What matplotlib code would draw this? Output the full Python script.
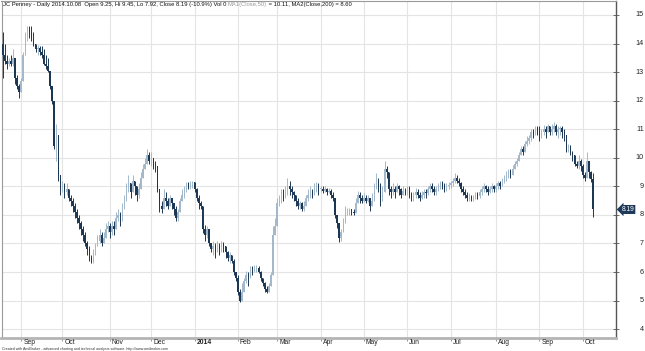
import numpy as np
import pandas as pd
import matplotlib
matplotlib.use("Agg")
import matplotlib.pyplot as plt
import matplotlib.transforms as mtransforms

plt.rcParams['font.family'] = ['Liberation Sans', 'DejaVu Sans']

# trading calendar of the chart (NYSE holidays inside the range)
holidays = ["2013-09-02", "2013-11-28", "2013-12-25", "2014-01-01", "2014-01-20",
            "2014-02-17", "2014-04-18", "2014-05-26", "2014-07-04", "2014-09-01"]
first_day = "2013-08-20"
last_day = "2014-10-08"

# daily close / high / low (Aug 2013 .. Oct 2014)
close = [
    # Aug
    13.6, 13.4, 13.3, 13.4, 13.3, 13.5, 12.8, 12.5, 12.3,
    # Sep
    12.7, 13.6, 14.3, 14.5, 14.4, 14.2, 14.0, 13.8, 13.85, 13.7,
    13.6, 13.3, 13.2, 13.05, 12.5, 12.0, 10.4, 10.8, 9.4, 8.9,
    # Oct
    9.0, 8.8, 8.9, 8.6, 8.5, 8.3, 8.1, 7.9, 7.7, 7.5, 7.3, 7.0,
    6.8, 6.5, 6.4, 6.6, 6.9, 7.1, 7.3, 7.0, 7.2, 7.5, 7.6,
    # Nov
    7.4, 7.6, 7.5, 7.9, 8.0, 7.8, 8.2, 8.5, 8.9, 9.1,
    8.8, 9.2, 9.0, 8.7, 8.9, 9.3, 9.6, 9.8, 10.1, 9.9,
    # Dec
    10.0, 9.8, 9.7, 8.9, 8.3, 8.2, 8.6, 8.5, 8.3, 8.6, 8.4,
    8.2, 7.9, 8.1, 8.5, 8.7, 8.9, 9.1, 9.0, 9.1, 9.15,
    # Jan
    8.9, 8.6, 8.4, 8.3, 7.5, 7.3, 7.5, 7.0, 6.8, 6.9, 6.7,
    6.9, 6.8, 7.0, 6.9, 6.7, 6.5, 6.6, 6.4, 6.0, 5.8,
    # Feb
    5.3, 5.0, 5.3, 5.7, 5.9, 5.8, 6.1, 6.0, 6.1, 6.15,
    6.0, 5.8, 5.6, 5.4, 5.3, 5.5, 5.9, 7.3, 7.6,
    # Mar
    8.4, 8.5, 8.7, 8.6, 8.8, 9.0, 8.9, 8.8, 8.7, 8.5, 8.3,
    8.4, 8.2, 8.3, 8.6, 8.7, 8.8, 8.7, 8.9, 9.0, 8.9,
    # Apr
    8.9, 8.85, 8.9, 8.8, 8.85, 8.7, 8.6, 8.0, 7.7, 7.2, 7.4,
    7.7, 8.1, 8.1, 8.2, 8.1, 8.05, 8.4, 8.7, 8.6, 8.5,
    # May
    8.6, 8.5, 8.6, 8.3, 8.5, 8.9, 9.2, 9.0, 8.5, 8.8, 9.6,
    9.5, 8.9, 8.8, 8.9, 8.8, 9.0, 8.9, 8.7, 8.85, 8.8,
    # Jun
    8.9, 8.7, 8.6, 8.7, 8.8, 8.7, 8.6, 8.7, 8.8, 8.75, 8.9,
    9.0, 8.9, 8.8, 8.9, 9.0, 9.1, 9.0, 8.9, 9.0, 9.05,
    # Jul
    9.1, 9.2, 9.3, 9.2, 9.1, 8.9, 8.8, 8.7, 8.6, 8.65, 8.6,
    8.6, 8.7, 8.65, 8.8, 8.9, 9.0, 8.9, 8.8, 8.9, 9.0, 8.9,
    # Aug
    9.0, 9.1, 9.0, 9.2, 9.3, 9.4, 9.5, 9.4, 9.6, 9.8, 9.9,
    10.1, 10.3, 10.2, 10.5, 10.6, 10.7, 10.9, 10.8, 11.0, 10.9,
    # Sep
    10.8, 10.9, 11.0, 10.9, 11.1, 10.9, 11.0, 11.1, 10.9, 11.0, 11.05,
    10.9, 10.8, 10.3, 10.4, 10.2, 10.1, 9.8, 9.7, 9.9, 9.7,
    # Oct
    9.4, 9.3, 9.9, 9.5, 9.25, 8.19,
]

high = [
    14.4, 14.0, 13.6, 13.5, 13.6, 13.8, 13.4, 12.9, 12.6,
    12.8, 13.7, 14.4, 14.6, 14.6, 14.6, 14.4, 14.0, 13.95, 13.9,
    13.9, 13.8, 13.6, 13.5, 12.9, 12.4, 11.8, 11.2, 9.9, 9.2,
    9.2, 9.1, 9.1, 8.9, 8.7, 8.6, 8.4, 8.2, 8.0, 7.8, 7.6, 7.4,
    7.1, 6.9, 6.6, 6.8, 7.0, 7.3, 7.5, 7.4, 7.4, 7.7, 7.8,
    7.7, 7.8, 7.8, 8.1, 8.2, 8.1, 8.4, 8.7, 9.1, 9.4,
    9.1, 9.4, 9.2, 9.0, 9.1, 9.5, 9.8, 10.0, 10.3, 10.2,
    10.2, 10.0, 9.9, 9.6, 8.8, 8.5, 8.9, 8.8, 8.6, 8.7, 8.6,
    8.4, 8.3, 8.2, 8.6, 8.9, 9.0, 9.15, 9.15, 9.2, 9.2,
    9.15, 8.95, 8.7, 8.5, 7.8, 7.65, 7.6, 7.35, 7.0, 7.1, 7.0,
    7.1, 7.0, 7.1, 7.05, 6.9, 6.75, 6.7, 6.6, 6.45, 6.0,
    5.9, 5.4, 5.6, 5.8, 6.05, 6.0, 6.2, 6.2, 6.25, 6.25,
    6.2, 6.05, 5.8, 5.65, 5.5, 5.6, 6.0, 7.6, 7.9,
    8.6, 8.7, 8.9, 8.9, 9.0, 9.3, 9.2, 9.0, 8.85, 8.7, 8.6,
    8.5, 8.45, 8.5, 8.7, 8.9, 9.0, 8.9, 9.1, 9.15, 9.1,
    9.0, 9.0, 9.0, 8.95, 8.95, 8.9, 8.8, 8.45, 8.0, 7.7, 7.5,
    7.9, 8.3, 8.25, 8.25, 8.2, 8.2, 8.6, 8.85, 8.8, 8.7,
    8.75, 8.7, 8.7, 8.6, 8.75, 9.1, 9.45, 9.3, 9.1, 9.0, 9.9,
    9.7, 9.3, 9.0, 9.1, 9.0, 9.1, 9.05, 8.95, 9.0, 8.95,
    9.0, 9.0, 8.8, 8.8, 8.95, 8.9, 8.8, 8.85, 8.9, 8.9, 9.0,
    9.1, 9.1, 9.0, 9.0, 9.1, 9.2, 9.2, 9.1, 9.1, 9.15,
    9.2, 9.3, 9.45, 9.4, 9.3, 9.15, 9.0, 8.9, 8.8, 8.75, 8.7,
    8.7, 8.8, 8.8, 8.9, 9.0, 9.1, 9.05, 9.0, 9.0, 9.1, 9.05,
    9.1, 9.2, 9.2, 9.3, 9.4, 9.55, 9.6, 9.6, 9.75, 9.9, 10.0,
    10.2, 10.4, 10.4, 10.6, 10.75, 10.8, 11.0, 11.0, 11.1, 11.1,
    11.1, 11.0, 11.15, 11.1, 11.2, 11.1, 11.2, 11.25, 11.2, 11.1, 11.1,
    11.1, 11.0, 10.8, 10.5, 10.45, 10.25, 10.1, 9.9, 10.1, 9.95,
    9.8, 9.5, 10.2, 9.9, 9.55, 9.45,
]

low = [
    12.8, 13.3, 13.1, 13.2, 13.2, 13.2, 12.6, 12.4, 12.1,
    12.4, 12.9, 13.9, 14.1, 14.2, 14.1, 13.9, 13.7, 13.6, 13.6,
    13.5, 13.25, 13.1, 13.0, 12.4, 11.9, 10.3, 9.9, 9.2, 8.7,
    8.8, 8.6, 8.7, 8.5, 8.3, 8.1, 7.9, 7.7, 7.5, 7.3, 7.1, 6.9,
    6.6, 6.4, 6.3, 6.3, 6.6, 6.9, 7.0, 6.9, 7.0, 7.2, 7.4,
    7.2, 7.3, 7.3, 7.5, 7.8, 7.6, 7.8, 8.2, 8.5, 8.8,
    8.6, 8.8, 8.7, 8.5, 8.6, 8.9, 9.3, 9.6, 9.8, 9.8,
    9.7, 9.6, 9.5, 8.8, 8.1, 8.05, 8.3, 8.3, 8.2, 8.3, 8.2,
    8.0, 7.8, 7.8, 8.1, 8.5, 8.6, 8.8, 8.9, 8.9, 8.95,
    8.8, 8.5, 8.2, 8.2, 7.35, 7.1, 7.2, 6.9, 6.7, 6.6, 6.5,
    6.7, 6.6, 6.7, 6.7, 6.5, 6.4, 6.3, 6.3, 5.9, 5.7,
    5.2, 4.95, 5.0, 5.3, 5.6, 5.5, 5.9, 5.9, 6.0, 6.0,
    5.95, 5.7, 5.5, 5.3, 5.25, 5.3, 5.6, 7.0, 7.3,
    8.2, 8.3, 8.4, 8.5, 8.6, 8.7, 8.7, 8.6, 8.5, 8.3, 8.2,
    8.2, 8.15, 8.15, 8.4, 8.5, 8.6, 8.6, 8.7, 8.8, 8.7,
    8.8, 8.75, 8.8, 8.7, 8.75, 8.6, 8.5, 7.9, 7.55, 7.05, 7.1,
    7.6, 7.9, 8.0, 8.0, 8.0, 8.0, 8.3, 8.5, 8.4, 8.4,
    8.45, 8.4, 8.45, 8.15, 8.3, 8.6, 8.9, 8.8, 8.3, 8.5, 9.3,
    9.3, 8.7, 8.6, 8.7, 8.6, 8.8, 8.7, 8.6, 8.7, 8.7,
    8.7, 8.6, 8.5, 8.5, 8.6, 8.6, 8.5, 8.55, 8.6, 8.6, 8.7,
    8.8, 8.8, 8.7, 8.7, 8.85, 8.9, 8.9, 8.8, 8.85, 8.9,
    8.95, 9.0, 9.1, 9.1, 9.0, 8.8, 8.7, 8.6, 8.5, 8.5, 8.5,
    8.5, 8.55, 8.55, 8.6, 8.7, 8.8, 8.8, 8.7, 8.75, 8.8, 8.8,
    8.8, 8.9, 8.9, 9.0, 9.1, 9.2, 9.3, 9.3, 9.4, 9.6, 9.7,
    9.9, 10.1, 10.1, 10.2, 10.4, 10.5, 10.6, 10.7, 10.8, 10.8,
    10.6, 10.7, 10.8, 10.7, 10.9, 10.8, 10.8, 10.9, 10.8, 10.7, 10.8,
    10.7, 10.6, 10.2, 10.2, 10.1, 9.9, 9.7, 9.65, 9.6, 9.55,
    9.3, 9.2, 9.5, 9.3, 9.15, 7.92,
]

first_open = 14.0
price_ticks = list(range(4, 16))
last_label = "8.19"
title_main = "JC Penney - Daily 2014.10.08  Open 9.25, Hi 9.45, Lo 7.92, Close 8.19 (-10.9%) Vol 0 "
title_ma1 = "MA1(Close,50)"
title_rest = " = 10.11, MA2(Close,200) = 8.60"
footer = ("Created with AmiBroker - advanced charting and technical analysis software. "
          "http://www.amibroker.com")

UP_COLOR = "#a3b8ca"
DOWN_COLOR = "#1b3754"
GRID_COLOR = "#e4e4e4"

dates = pd.bdate_range(first_day, last_day, freq="C", holidays=holidays)
n = len(close)
dates = dates[:n]
idx = np.arange(n)

c = np.array(close)
h = np.array(high)
l = np.array(low)
o = np.concatenate([[first_open], c[:-1]])

# month starts along the bar axis
months = dates.month
month_pos = [i for i in range(1, n) if months[i] != months[i - 1]]
month_lab = ["2014" if dates[i].month == 1 else dates[i].strftime("%b") for i in month_pos]

W, H = 645, 351
fig = plt.figure(figsize=(W / 100, H / 100), dpi=100)
ax = fig.add_axes([1.5 / W, 13 / H, (616 - 1.5) / W, (350 - 13) / H])

x_left = (1.5 - 2.5) / 2.065
x_right = (616 - 2.5) / 2.065
ax.set_xlim(x_left, x_right)
ax.set_ylim(3.69, 15.49)

# candles
up = c >= o
body_lo = np.minimum(o, c)
body_hi = np.maximum(o, c)
wick_lo = np.minimum(l, body_lo)
wick_hi = np.maximum(h, body_hi)
for mask, col in ((up, UP_COLOR), (~up, DOWN_COLOR)):
    ax.vlines(idx[mask], wick_lo[mask], wick_hi[mask], color=col, lw=0.7, zorder=3)
    ax.bar(idx[mask], np.maximum(body_hi[mask] - body_lo[mask], 0.03), bottom=body_lo[mask],
           width=0.65, color=col, linewidth=0, zorder=3)

# grid and frame
ax.set_xticks(month_pos)
ax.set_yticks(price_ticks)
ax.grid(True, color=GRID_COLOR, lw=0.8, zorder=0)
ax.set_axisbelow(True)
ax.tick_params(axis="x", direction="out", length=2.5, width=0.6, color="#808080",
               labelbottom=False)
ax.tick_params(axis="y", left=False, right=True, direction="inout", length=4, width=0.6,
               color="#555555", labelleft=False, labelright=False)
for side in ("top", "left"):
    ax.spines[side].set_color("#9a9a9a")
    ax.spines[side].set_linewidth(0.8)
ax.spines["bottom"].set_color("#b4b4b4")
ax.spines["bottom"].set_linewidth(2.0)
ax.spines["right"].set_color("#555555")
ax.spines["right"].set_linewidth(1.0)

# month labels, left aligned just right of the tick
lab_tr = ax.get_xaxis_transform() + mtransforms.ScaledTranslation(1.5 / 72, -0.6 / 72, fig.dpi_scale_trans)
for pos, lab in zip(month_pos, month_lab):
    ax.text(pos, 0, lab, transform=lab_tr, ha="left", va="top", fontsize=4.9,
            fontweight="bold" if lab == "2014" else "normal", color="#222222")

# price labels on the right
ylab_tr = mtransforms.blended_transform_factory(fig.transFigure, ax.transData)
for p in price_ticks:
    ax.text(644 / W, p, str(p), transform=ylab_tr, ha="right", va="center",
            fontsize=5.2, color="#222222")

# last close marker
ax.annotate(last_label, xy=(1.0, c[-1]), xycoords=("axes fraction", "data"),
            xytext=(4, 0), textcoords="offset points", ha="left", va="center",
            fontsize=4.8, color="white", zorder=6, annotation_clip=False,
            bbox=dict(boxstyle="larrow,pad=0.15", fc="#1d3a5a", ec="none"))

# title line
t1 = ax.text(0.002, 0.997, title_main, transform=ax.transAxes, ha="left", va="top",
             fontsize=4.2, color="#111111")
t2 = ax.annotate(title_ma1, xy=(1, 0), xycoords=t1, ha="left", va="bottom",
                 fontsize=4.2, color="#9a9a9a")
ax.annotate(title_rest, xy=(1, 0), xycoords=t2, ha="left", va="bottom",
            fontsize=4.2, color="#111111")

fig.text(2 / W, 1 - 348.8 / H, footer, ha="left", va="center", fontsize=2.6, color="#333333")

fig.savefig("out.png", dpi=100)
